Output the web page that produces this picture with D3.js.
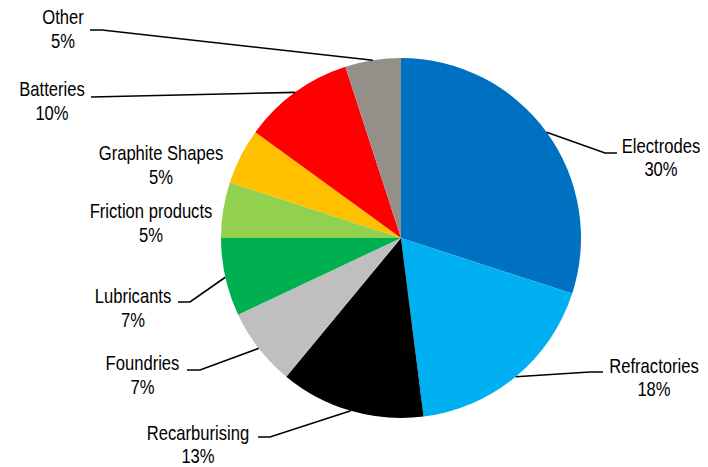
<!DOCTYPE html>
<html><head><meta charset="utf-8">
<script src="https://cdn.jsdelivr.net/npm/d3@7"></script>
<style>body{margin:0;background:#fff}svg{display:block}</style>
</head><body>
<svg id="c" width="708" height="467"></svg>
<script>
const categories = ["Electrodes","Refractories","Recarburising","Foundries","Lubricants","Friction products","Graphite Shapes","Batteries","Other"];
const values = [30,18,13,7,7,5,5,10,5];
const colors = ["#0070C0","#00B0F0","#000000","#BFBFBF","#00B050","#92D050","#FFC000","#FF0000","#958F8A"];

// label layout: text centre x, line centres y1/y2, leader end (ex,ey), elbow (bx,by)
const labelLayout = [
  {x:661,y1:146,y2:169,ex:617,ey:153,bx:605,by:153},
  {x:654,y1:366,y2:389,ex:603,ey:372,bx:590,by:372},
  {x:198,y1:433,y2:456,ex:258,ey:437,bx:270,by:437},
  {x:142.5,y1:362.5,y2:387,ex:187,ey:370,bx:200,by:370},
  {x:133,y1:295.5,y2:319.5,ex:178,ey:302,bx:190,by:302},
  {x:151,y1:210.5,y2:235,ex:null},
  {x:161,y1:152.5,y2:177,ex:null},
  {x:52,y1:89,y2:112.5,ex:91,ey:97,bx:null,by:null},
  {x:63,y1:17,y2:41,ex:90,ey:30,bx:102,by:30}
];

const svg = d3.select("#c");
const cx=401, cy=238, R=180;
const data = categories.map((c,i)=>({name:c,value:values[i],color:colors[i],lab:labelLayout[i]}));
const pie = d3.pie().value(d=>d.value).sort(null);
const arcs = pie(data);
const arc = d3.arc().innerRadius(0).outerRadius(R);
const g = svg.append("g").attr("transform",`translate(${cx},${cy})`);
g.selectAll("path").data(arcs).join("path").attr("d",arc).attr("fill",d=>d.data.color);

const font = "'Liberation Sans',Arial,sans-serif";
const sx = 0.81;
arcs.forEach(a=>{
  const L=a.data.lab;
  if(L.ex!==null){
    const m=(a.startAngle+a.endAngle)/2;
    const px=cx+R*Math.sin(m), py=cy-R*Math.cos(m);
    const pts=[[px,py]];
    if(L.bx!==null) pts.push([L.bx,L.by]);
    pts.push([L.ex,L.ey]);
    svg.append("path").attr("d",d3.line()(pts)).attr("fill","none").attr("stroke","#000").attr("stroke-width",1.6);
  }
  [[a.data.name,L.y1],[d3.format(".0%")(a.data.value/100),L.y2]].forEach(([s,y])=>{
    svg.append("text").attr("transform",`translate(${L.x},${y}) scale(${sx},1)`)
      .attr("text-anchor","middle").attr("dy","0.36em")
      .attr("font-family",font).attr("font-size",20.5).attr("fill","#000").text(s);
  });
});
</script>
</body></html>
